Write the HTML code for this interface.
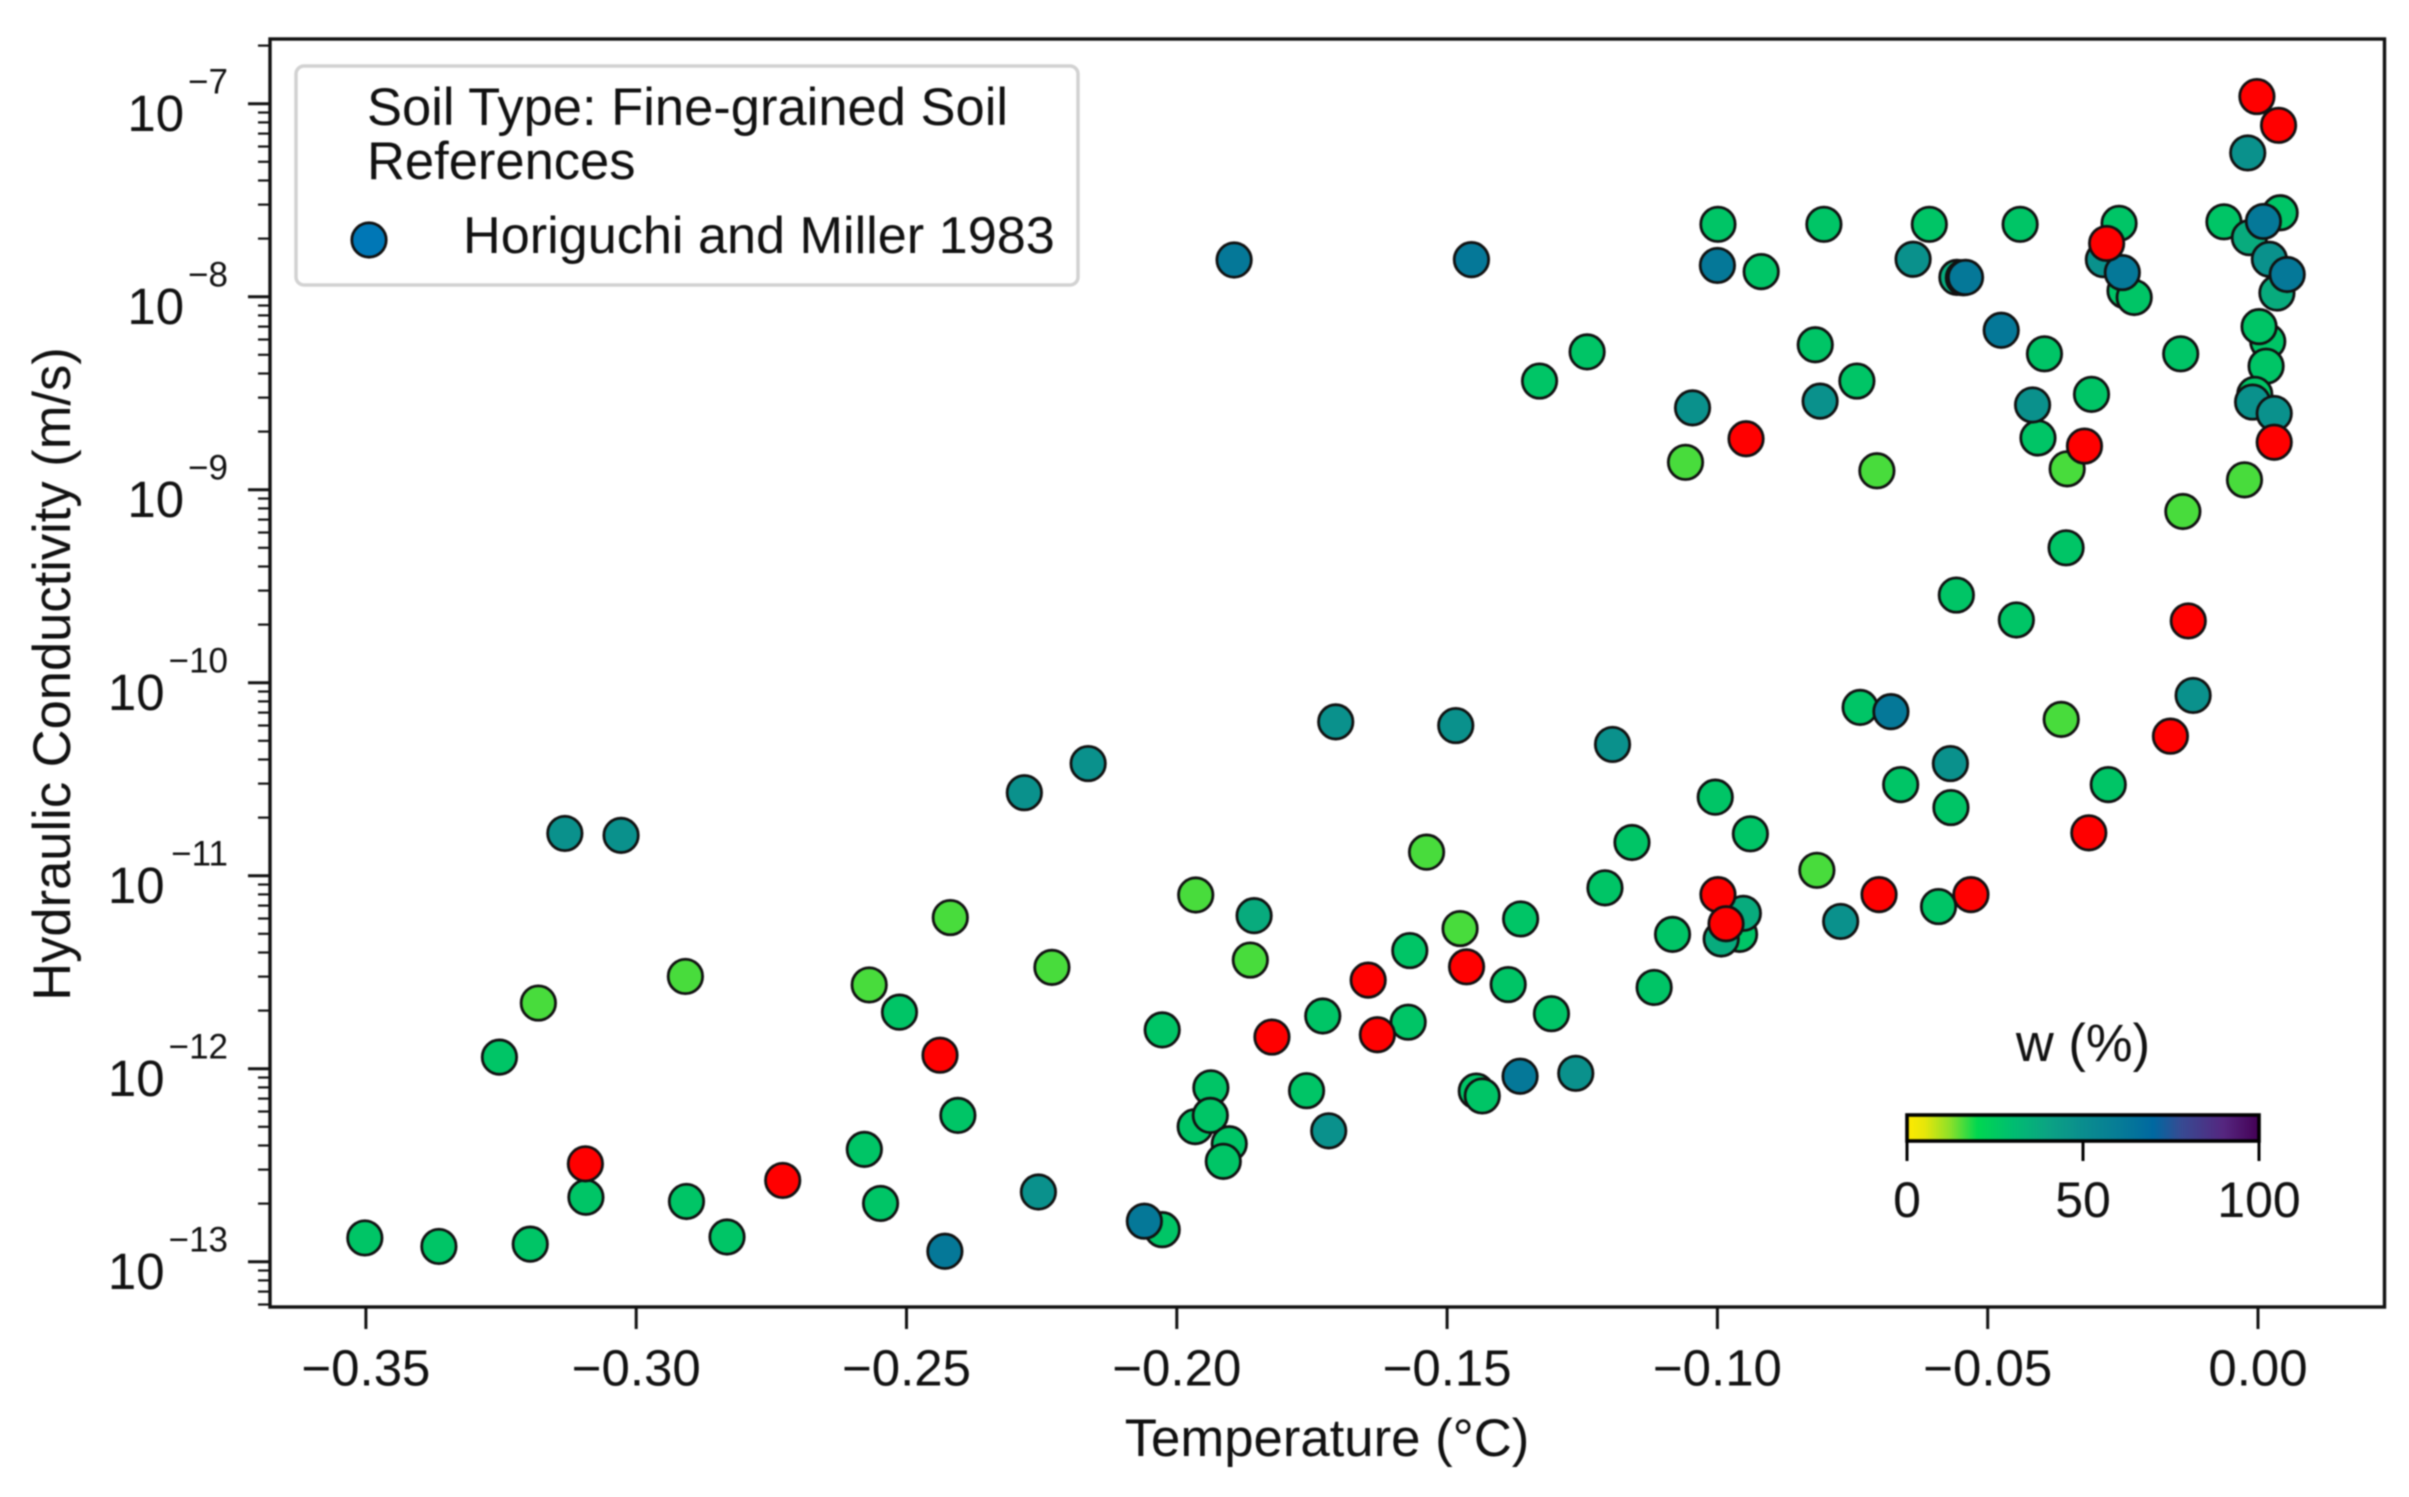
<!DOCTYPE html>
<html lang="en">
<head>
<meta charset="utf-8">
<title>Hydraulic conductivity vs temperature</title>
<style>
html,body{margin:0;padding:0;background:#fff;width:2409px;height:1497px;overflow:hidden}
svg{display:block;filter:blur(0.7px)}
text{font-family:"Liberation Sans",Arial,sans-serif;fill:#111}
</style>
</head>
<body>
<svg id="chart" xmlns="http://www.w3.org/2000/svg" width="2409" height="1497" viewBox="0 0 2409 1497">
  <defs>
    <linearGradient id="cbar-gradient" x1="0" x2="1" y1="0" y2="0"></linearGradient>
  </defs>
  <rect x="0" y="0" width="2409" height="1497" fill="#fff"/>
  <g id="points"></g>
  <g id="axes"></g>
  <rect x="270" y="39" width="2114.5" height="1268" fill="none" stroke="#111" stroke-width="3.4"/>
  <g>
    <rect x="296" y="66" width="782" height="219" rx="8" fill="#fff" stroke="#d2d2d2" stroke-width="3.5"/>
    <text x="367" y="125" font-size="52.5">Soil Type: Fine-grained Soil</text>
    <text x="367" y="179" font-size="52.5">References</text>
    <circle cx="369" cy="240" r="17.2" fill="#0077b6" stroke="#111" stroke-width="2.8"/>
    <text x="463" y="253" font-size="52.2">Horiguchi and Miller 1983</text>
  </g>
  <g id="colorbar">
    <text x="2083" y="1061" font-size="52.5" text-anchor="middle">w (%)</text>
    <rect x="1907" y="1115" width="352" height="26" fill="url(#cbar-gradient)" stroke="#000" stroke-width="3.6"/>
  </g>
  <text x="1327" y="1456" font-size="52.7" text-anchor="middle">Temperature (°C)</text>
  <text transform="translate(70,674) rotate(-90)" font-size="52.5" text-anchor="middle">Hydraulic Conductivity (m/s)</text>
</svg>
<script>
// --- data ---
const temperatureC = [
  // low water content
  -0.1059,-0.0705,-0.0353,-0.0025,-0.0139,-0.0364,-0.1538,-0.1864,-0.1965,-0.1476,-0.0816,-0.2419,-0.2231,-0.2909,-0.3181,-0.2569,
  // medium water content
  -0.0999,-0.0919,-0.0803,-0.0608,-0.0440,-0.0257,-0.0246,-0.0229,-0.0063,0.0041,-0.0395,-0.0143,0.0018,0.0002,0.0015,-0.0006,-0.0308,-0.0407,-0.0355,-0.0558,-0.0447,-0.0736,-0.0742,-0.0819,-0.1241,-0.1329,
  -0.1569,-0.1364,-0.1387,-0.1307,-0.1730,-0.1572,-0.1760,-0.1446,-0.1435,-0.1937,-0.1966,-0.1938,-0.1903,-0.1914,-0.1208,-0.1158,-0.1004,-0.0939,-0.0591,-0.1083,-0.0959,-0.1117,-0.0661,-0.0568,-0.0277,
  -0.2513,-0.3253,-0.2027,-0.2405,-0.2578,-0.3093,-0.2907,-0.2548,-0.2832,-0.3502,-0.3365,-0.3196,-0.2027,
  // medium-high
  -0.0557,-0.0016,0.0035,-0.1857,-0.0952,-0.0993,
  // high
  -0.0638,-0.0286,-0.0019,0.0021,-0.0010,0.0030,-0.0417,-0.0120,-0.0810,-0.1046,-0.1706,-0.1484,-0.1194,-0.1262,-0.1719,-0.0772,-0.0569,-0.3132,-0.3028,-0.2282,-0.2164,-0.2256,
  // very high
  -0.1894,-0.1455,-0.1000,-0.0545,-0.0541,-0.0251,0.0010,0.0054,-0.0475,-0.0679,-0.1365,-0.2429,-0.2060,
  // no water content reading
  -0.0280,-0.0002,0.0038,0.0030,-0.0321,-0.0129,-0.0162,-0.0947,-0.1464,-0.1646,-0.1629,-0.1824,-0.0701,-0.0531,-0.0999,-0.0984,-0.0313,-0.2438,-0.3094,-0.2729
];
const logConductivity = [
  -8.858,-8.902,-8.892,-8.949,-9.113,-10.190,-10.878,-11.437,-11.100,-11.274,-10.972,-11.217,-11.475,-11.522,-11.660,-11.566,
  -7.625,-7.870,-7.625,-7.625,-7.625,-7.620,-7.969,-8.004,-7.612,-7.565,-8.296,-8.296,-8.232,-8.155,-8.360,-8.506,-8.506,-8.732,-9.301,-9.546,-9.675,-10.128,-8.437,-8.249,-8.286,-8.437,
  -11.388,-11.224,-11.564,-11.715,-11.727,-11.759,-12.114,-12.116,-12.141,-12.099,-12.300,-12.242,-12.389,-12.480,-11.063,-10.828,-10.593,-10.783,-11.160,-11.304,-11.304,-11.579,-10.528,-10.647,-10.528,
  -11.707,-11.940,-11.799,-12.242,-12.418,-12.666,-12.688,-12.698,-12.872,-12.877,-12.921,-12.909,-12.834,
  -7.900,-7.694,-7.981,-11.207,-11.195,-11.328,
  -7.806,-7.808,-7.255,-7.806,-8.546,-8.605,-8.561,-10.066,-8.541,-8.576,-10.203,-10.222,-10.320,-12.024,-12.322,-11.237,-10.419,-10.781,-10.791,-10.570,-10.419,-12.639,
  -7.810,-7.808,-7.838,-7.902,-7.900,-7.875,-7.610,-7.885,-8.174,-10.150,-12.039,-12.946,-12.790,
  -7.724,-6.963,-7.112,-8.754,-8.774,-9.680,-10.277,-8.736,-11.472,-11.541,-11.824,-11.836,-11.098,-11.098,-11.098,-11.249,-10.778,-11.930,-12.493,-12.579
];
const waterContent = [
  16,16,16,16,16,16,16,16,16,16,16,16,16,16,16,16,
  27,27,27,27,27,27,27,27,27,27,27,27,27,27,27,27,27,27,27,27,27,27,27,27,27,27,
  27,27,27,27,27,27,27,27,27,27,27,27,27,27,27,27,27,27,27,27,27,27,27,27,27,
  27,27,27,27,27,27,27,27,27,27,27,27,27,
  37,37,37,37,37,37,
  48,48,48,48,48,48,48,48,48,48,48,48,48,48,48,48,48,48,48,48,48,48,
  62,62,62,62,62,62,62,62,62,62,62,62,62,
  null,null,null,null,null,null,null,null,null,null,null,null,null,null,null,null,null,null,null,null
];
const xTickValues = [-0.35,-0.30,-0.25,-0.20,-0.15,-0.10,-0.05,0.00];
const xTickLabels = ["−0.35","−0.30","−0.25","−0.20","−0.15","−0.10","−0.05","0.00"];
const yTickExponents = [-7,-8,-9,-10,-11,-12,-13];
const colorbarTicks = [0,50,100];
const colormapPositions = [0,5,12,20,30,40,50,60,70,78,90,100];
const colormapColors = ["#ffea00","#e6e60a","#8fe028","#00d750","#00bd70","#0ba383","#0a8d8e","#067c96","#0068a0","#374a92","#55267f","#440055"];

// --- scales ---
const NS = "http://www.w3.org/2000/svg";
function xScale(t){ return 2258 + t * 5406; }
function yScale(logK){ return 1261.7 - (logK + 13) * 193; }
function cbarScale(w){ return 1907 + w * 3.52; }
function hexToRgb(h){ return [1,3,5].map(function(i){ return parseInt(h.substr(i,2),16); }); }
function colorFor(w){
  if (w === null) return "#ff0000";
  for (let i = 0; i < colormapPositions.length - 1; i++) {
    if (w <= colormapPositions[i+1]) {
      const f = (w - colormapPositions[i]) / (colormapPositions[i+1] - colormapPositions[i]);
      const a = hexToRgb(colormapColors[i]), b = hexToRgb(colormapColors[i+1]);
      return "rgb(" + a.map(function(v,k){ return Math.round(v + (b[k]-v)*f); }).join(",") + ")";
    }
  }
  return colormapColors[colormapColors.length-1];
}
function make(tag, attrs, parent, txt){
  const el = document.createElementNS(NS, tag);
  for (const k in attrs) el.setAttribute(k, attrs[k]);
  if (txt !== undefined) el.textContent = txt;
  parent.appendChild(el);
  return el;
}

// --- points ---
const pointsG = document.getElementById("points");
temperatureC.forEach(function(t, i){
  const c = make("circle", {cx:xScale(t), cy:yScale(logConductivity[i]), r:17.2, fill:colorFor(waterContent[i]), stroke:"#111", "stroke-width":2.8}, pointsG);
  
  
});

// --- axes ---
const axesG = document.getElementById("axes");
xTickValues.forEach(function(v, i){
  const x = xScale(v);
  const tick = make("line", {x1:x, x2:x, y1:1307, y2:1329, stroke:"#111", "stroke-width":3}, axesG);
  
  
  const label = make("text", {x:x, y:1385.5, "font-size":51, "text-anchor":"middle"}, axesG, xTickLabels[i]);
  
  
});
yTickExponents.forEach(function(e){
  const y = yScale(e);
  const tick = make("line", {x1:248, x2:270, y1:y, y2:y, stroke:"#111", "stroke-width":3}, axesG);
  
  
  const expText = "−" + Math.abs(e);
  const supWidth = (0.584 + 0.556 * String(Math.abs(e)).length) * 35;
  const base = make("text", {x:228 - supWidth - 4, y:y + 27.2, "font-size":51, "text-anchor":"end"}, axesG, "10");
  
  
  const sup = make("text", {x:228, y:y - 10, "font-size":35, "text-anchor":"end"}, axesG, expText);
  
  
});
for (let e = -14; e <= -7; e++) {
  for (let m = 2; m <= 9; m++) {
    const y = yScale(e + Math.log10(m));
    if (y < 41 || y > 1305) continue;
    const minor = make("line", {x1:258, x2:270, y1:y, y2:y, stroke:"#111", "stroke-width":2.2}, axesG);
    
    
  }
}

// --- colorbar ---
const grad = document.getElementById("cbar-gradient");
colormapPositions.forEach(function(p, i){
  make("stop", {offset:p + "%", "stop-color":colormapColors[i]}, grad);
});
const cbarG = document.getElementById("colorbar");
colorbarTicks.forEach(function(v){
  const x = cbarScale(v);
  const tick = make("line", {x1:x, x2:x, y1:1141, y2:1161, stroke:"#000", "stroke-width":3}, cbarG);
  
  
  const label = make("text", {x:x, y:1217, "font-size":50, "text-anchor":"middle"}, cbarG, String(v));
  
  
});
</script>
</body>
</html>
